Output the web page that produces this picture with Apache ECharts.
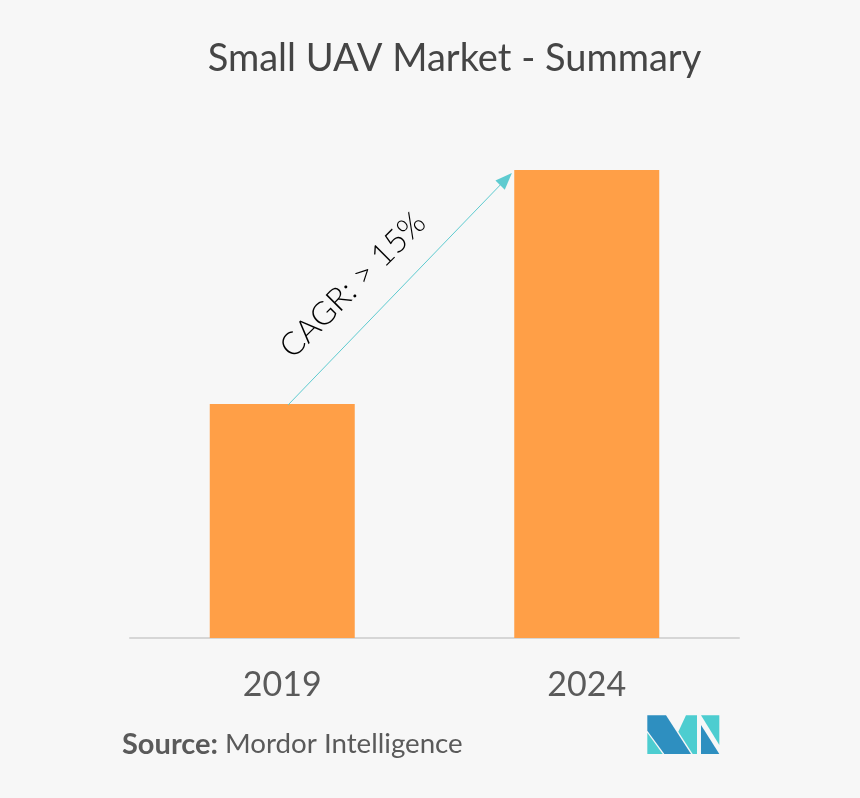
<!DOCTYPE html>
<html>
<head>
<meta charset="utf-8">
<style>
  html, body { margin: 0; padding: 0; background: #f7f7f7; }
  #main { width: 860px; height: 798px; }
</style>
<script src="https://cdn.jsdelivr.net/npm/echarts@6/dist/echarts.min.js"></script>
</head>
<body>
<div id="main"></div>
<script>
// no numbers on the picture, so values are relative to the 2024 bar
var years = ['2019', '2024'];
var marketSize = [50, 100];

var font = 'Lato';
var chart = echarts.init(document.getElementById('main'));

function poly(points, color) {
  return {
    type: 'polygon',
    shape: { points: points.map(function (p) { return [630 + p[0] / 3, 700 + p[1] / 3]; }) },
    style: { fill: color }
  };
}

chart.setOption({
  backgroundColor: '#f7f7f7',
  animation: false,
  title: {
    text: 'Small UAV Market - Summary',
    left: 449.5,
    top: 35,
    textAlign: 'center',
    textStyle: { fontFamily: font, fontSize: 38, fontWeight: 'normal', color: '#454545' }
  },
  grid: { left: 130, right: 121, top: 170, bottom: 160 },
  xAxis: {
    type: 'category',
    data: years,
    axisTick: { show: false },
    axisLine: { lineStyle: { color: '#d6d6d6', width: 2 } },
    axisLabel: { fontFamily: font, fontSize: 34, color: '#5a5a5a', margin: 30 }
  },
  yAxis: { type: 'value', min: 0, max: 100, show: false },
  series: [{
    type: 'bar',
    data: marketSize,
    barWidth: 145,
    itemStyle: { color: '#ff9f47' },
    markLine: {
      silent: true,
      symbol: ['none', 'triangle'],
      symbolSize: [13, 17],
      label: { show: false },
      lineStyle: { color: '#5ecbd0', width: 1, type: 'solid' },
      data: [[{ x: 288, y: 405 }, { x: 506, y: 179 }]]
    }
  }],
  graphic: [
    {
      type: 'text',
      x: 353,
      y: 285,
      rotation: Math.PI / 4,
      style: {
        text: 'CAGR: > 15%',
        font: '300 32px ' + font,
        fill: '#000000',
        textAlign: 'center',
        textVerticalAlign: 'middle'
      }
    },
    {
      type: 'text',
      left: 122,
      top: 730,
      style: { text: 'Source:', font: 'bold 29px ' + font, fill: '#5a5a5a' }
    },
    {
      type: 'text',
      left: 225,
      top: 730,
      style: { text: 'Mordor Intelligence', font: '27.7px ' + font, fill: '#5a5a5a' }
    },
    poly([[52, 46], [108, 46], [183, 162], [103, 162], [52, 92]], '#2e8fc0'),
    poly([[52, 98], [98, 162], [52, 162]], '#4dcdd0'),
    poly([[168, 46], [201, 46], [201, 162], [188, 162], [145, 95]], '#4dcdd0'),
    poly([[213, 46], [268, 46], [268, 135]], '#4dcdd0'),
    poly([[213, 75], [268, 162], [213, 162]], '#2e8fc0')
  ]
});
</script>
</body>
</html>
